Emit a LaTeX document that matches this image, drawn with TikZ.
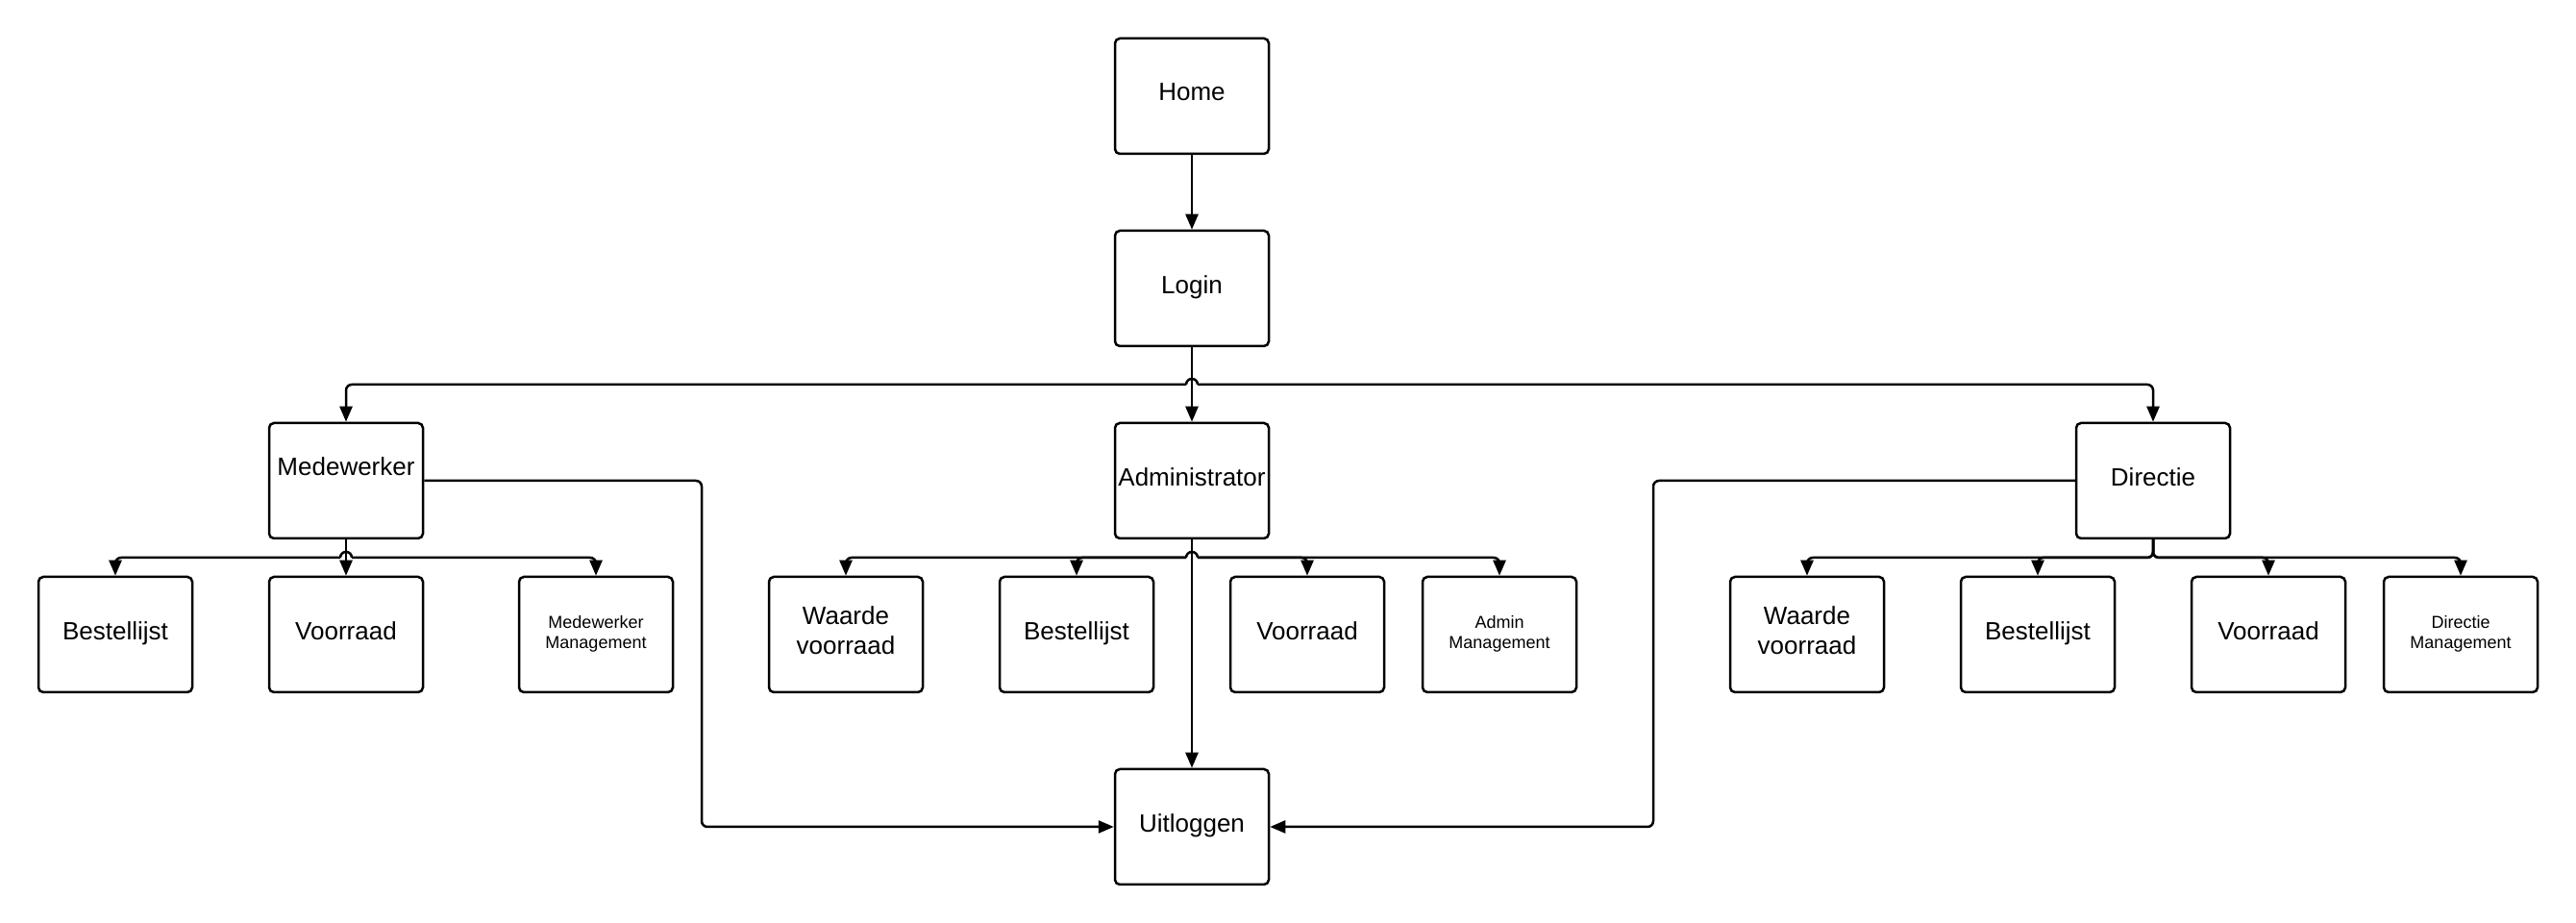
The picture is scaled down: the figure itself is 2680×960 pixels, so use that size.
\documentclass[tikz,border=0pt]{standalone}
\usepackage{fontspec}
\setmainfont{Liberation Sans}
\usetikzlibrary{arrows.meta,calc}
\begin{document}
\begin{tikzpicture}[x=1pt,y=1pt,
  box/.style={draw=black,line width=2.5pt,rounded corners=5pt,minimum width=160pt,minimum height=120pt,inner sep=0pt,align=center,text depth=8pt,font=\fontsize{26}{31}\selectfont},
  smallbox/.style={box,text depth=6pt,font=\fontsize{18}{21}\selectfont},
  txt/.style={inner sep=0pt,font=\fontsize{26}{31}\selectfont},
  conn/.style={line width=2.5pt,rounded corners=6pt},
  arr/.style={conn,-{Triangle[length=16pt,width=13pt]}}
]
\useasboundingbox (0,0) rectangle (2680,960);
% level 0-1
\node[box] (home) at (1240,860) {Home};
\node[box] (login) at (1240,660) {Login};
% level 2
\node[box] (med) at (360,460) {};
\node[txt] (medt) at (360,475) {Medewerker};
\node[box] (admin) at (1240,460) {Administrator};
\node[box] (dir) at (2240,460) {Directie};
% level 3
\node[box] (best1) at (120,300) {Bestellijst};
\node[box] (voor1) at (360,300) {Voorraad};
\node[smallbox] (mm) at (620,300) {Medewerker\\Management};
\node[box] (wv1) at (880,300) {Waarde\\voorraad};
\node[box] (best2) at (1120,300) {Bestellijst};
\node[box] (voor2) at (1360,300) {Voorraad};
\node[smallbox] (am) at (1560,300) {Admin\\Management};
\node[box] (wv2) at (1880,300) {Waarde\\voorraad};
\node[box] (best3) at (2120,300) {Bestellijst};
\node[box] (voor3) at (2360,300) {Voorraad};
\node[smallbox] (dm) at (2560,300) {Directie\\Management};
% exit
\node[box] (uit) at (1240,100) {Uitloggen};
% helper coordinates
\coordinate (lhop) at (1240,560);
\coordinate (mhop) at (360,380);
\coordinate (ahop) at (1240,380);
\coordinate (dbus) at (2240,380);
\coordinate (mturn) at (730,460);
\coordinate (dturn) at (1720,460);
% Home -> Login
\draw[arr] (home) -- (login);
% Login -> roles
\draw[arr] (login) -- (admin);
\draw[conn] ($(lhop)+(6,0)$) arc (0:180:6);
\draw[arr] ($(lhop)+(-6,0)$) -| (med.north);
\draw[arr] ($(lhop)+(6,0)$) -| (dir.north);
% Medewerker children
\draw[arr] (med) -- (voor1);
\draw[conn] ($(mhop)+(6,0)$) arc (0:180:6);
\draw[arr] ($(mhop)+(-6,0)$) -| (best1.north);
\draw[arr] ($(mhop)+(6,0)$) -| (mm.north);
% Administrator children
\draw[arr] (admin) -- (uit);
\draw[conn] ($(ahop)+(6,0)$) arc (0:180:6);
\draw[arr] ($(ahop)+(-6,0)$) -| (wv1.north);
\draw[arr] ($(ahop)+(-6,0)$) -| (best2.north);
\draw[arr] ($(ahop)+(6,0)$) -| (voor2.north);
\draw[arr] ($(ahop)+(6,0)$) -| (am.north);
% Directie children
\draw[arr] (dir.south) -- (dbus) -| (wv2.north);
\draw[arr] (dir.south) -- (dbus) -| (best3.north);
\draw[arr] (dir.south) -- (dbus) -| (voor3.north);
\draw[arr] (dir.south) -- (dbus) -| (dm.north);
% to Uitloggen
\draw[arr] (med.east) -- (mturn) |- (uit.west);
\draw[arr] (dir.west) -- (dturn) |- (uit.east);
\end{tikzpicture}
\end{document}
